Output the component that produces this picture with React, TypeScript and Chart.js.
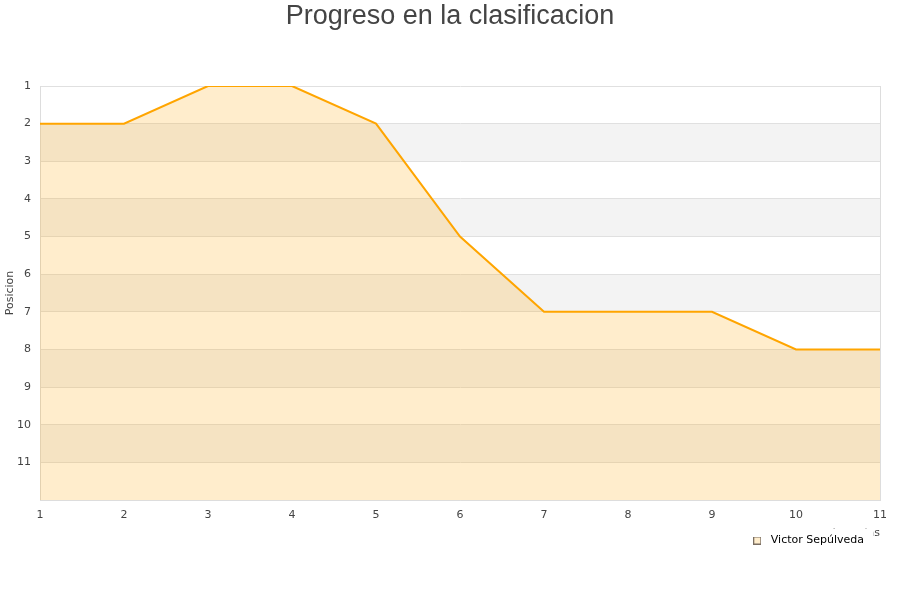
import React, { useEffect, useRef } from "react";
import { Chart, registerables } from "chart.js";

Chart.register(...registerables);

const jornadas: string[] = ["1", "2", "3", "4", "5", "6", "7", "8", "9", "10", "11"];
const posiciones: number[] = [2, 2, 1, 1, 2, 5, 7, 7, 7, 8, 8];
const bandas: [number, number][] = [[2, 3], [4, 5], [6, 7], [8, 9], [10, 11]];
const jugador = "Victor Sepúlveda";
const titulo = "Progreso en la clasificacion";
const tituloY = "Posicion";
const tituloX = "Jornadas";

const bandPlugin = {
  id: "bands",
  beforeDraw(chart: any) {
    const { ctx, chartArea } = chart;
    const y = chart.scales.y;
    ctx.save();
    ctx.fillStyle = "#f3f3f3";
    bandas.forEach(([a, b]) => {
      const p1 = y.getPixelForValue(a);
      const p2 = y.getPixelForValue(b);
      ctx.fillRect(chartArea.left, Math.min(p1, p2), chartArea.right - chartArea.left, Math.abs(p2 - p1));
    });
    ctx.restore();
  },
};

const LEGEND_SHIFT = 32;

const legendCover = {
  id: "legendCover",
  afterLayout(chart: any) {
    const lg = chart.legend;
    if (!lg) return;
    lg.right -= LEGEND_SHIFT;
    lg.left -= LEGEND_SHIFT;
  },
  afterDraw(chart: any) {
    const lg = chart.legend;
    if (!lg || !lg.legendHitBoxes || !lg.legendHitBoxes.length) return;
    const hb = lg.legendHitBoxes[0];
    const pad = lg.options.labels.padding;
    const itemLeft = lg.right - pad - hb.width;
    const { ctx } = chart;
    ctx.save();
    ctx.fillStyle = "#ffffff";
    ctx.fillRect(itemLeft - 6, chart.chartArea.bottom + 28.5, hb.width + 15, 40);
    ctx.restore();
    lg.draw();
  },
};

function makeSwatch(): HTMLCanvasElement {
  const c = document.createElement("canvas");
  c.width = 8;
  c.height = 8;
  const g = c.getContext("2d")!;
  g.fillStyle = "rgba(255,165,0,0.2)";
  g.fillRect(0, 0, 8, 8);
  g.strokeStyle = "#7a6e62";
  g.lineWidth = 1;
  g.strokeRect(0.5, 0.5, 7, 7);
  return c;
}

export default function App() {
  const ref = useRef<HTMLCanvasElement>(null);
  useEffect(() => {
    if (!ref.current) return;
    Chart.defaults.font.family = "'DejaVu Sans', sans-serif";
    const swatch = makeSwatch();
    const chart = new Chart(ref.current, {
      type: "line",
      data: {
        labels: jornadas,
        datasets: [
          {
            label: jugador,
            data: posiciones,
            borderColor: "#ffa500",
            backgroundColor: "rgba(255,165,0,0.2)",
            borderWidth: 2,
            pointRadius: 0,
            tension: 0,
            fill: "start",
            clip: 0,
            yAxisID: "y",
          },
        ],
      },
      options: {
        animation: false,
        responsive: false,
        layout: { padding: { left: 0, right: 0, top: 0, bottom: 44 } },
        plugins: {
          tooltip: { enabled: false },
          title: {
            display: true,
            text: titulo,
            color: "#444",
            font: { family: "'Liberation Sans', Arial, sans-serif", size: 27, weight: "normal" },
            padding: { top: 0, bottom: 53.6 },
          },
          legend: {
            position: "bottom",
            align: "end",
            labels: {
              usePointStyle: true,
              pointStyleWidth: 16,
              boxHeight: 8,
              padding: 4,
              color: "#222",
              font: { size: 11 },
              generateLabels: () => [
                {
                  text: jugador,
                  fillStyle: "rgba(255,165,0,0.2)",
                  strokeStyle: "#7a6e62",
                  lineWidth: 0,
                  pointStyle: swatch,
                  hidden: false,
                  datasetIndex: 0,
                },
              ],
            },
          },
        },
        scales: {
          x: {
            type: "category",
            offset: false,
            afterFit: (s: any) => {
              s.height = 31;
            },
            grid: {
              drawTicks: false,
              color: (c: any) => (c.index === 0 || c.index === jornadas.length - 1 ? "#dddddd" : "rgba(0,0,0,0)"),
            },
            border: { display: true, color: "#dddddd" },
            ticks: { color: "#444", font: { size: 11 }, padding: 9, maxRotation: 0, autoSkip: false },
            title: {
              display: true,
              text: tituloX,
              align: "end",
              color: "#444",
              font: { size: 11 },
              padding: { top: 0, bottom: -9 },
            },
          },
          y: {
            type: "linear",
            position: "left",
            reverse: true,
            min: 1,
            max: 12,
            afterFit: (s: any) => {
              s.width = 40;
            },
            grid: { drawTicks: false, color: "#e0e0e0" },
            border: { display: true, color: "#dddddd" },
            ticks: {
              stepSize: 1,
              color: "#444",
              font: { size: 11 },
              padding: 9,
              callback: (v: any) => (v === 12 ? "" : String(v)),
            },
            title: {
              display: true,
              text: tituloY,
              color: "#444",
              font: { size: 11 },
              padding: { top: 4, bottom: 0 },
            },
          },
          margen: {
            type: "linear",
            position: "right",
            afterFit: (s: any) => {
              s.width = 20;
            },
            grid: { drawOnChartArea: false, drawTicks: false },
            border: { display: false },
            ticks: { display: false },
          },
        },
      },
      plugins: [bandPlugin, legendCover],
    });
    return () => chart.destroy();
  }, []);
  return (
    <div style={{ position: "fixed", left: 0, top: 0, width: 900, height: 600, background: "#fff" }}>
      <canvas ref={ref} width={900} height={600} />
    </div>
  );
}
